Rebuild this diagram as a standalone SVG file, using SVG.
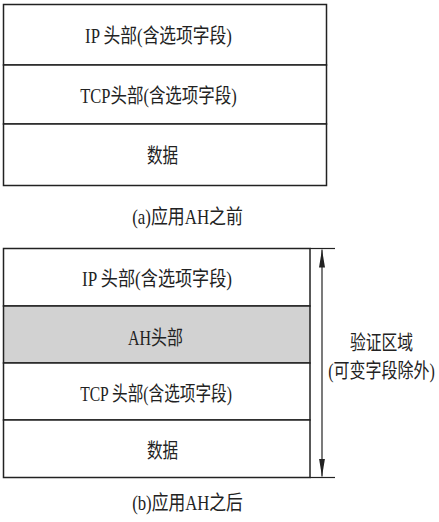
<svg xmlns="http://www.w3.org/2000/svg" width="439" height="522" viewBox="0 0 439 522">
<style>
.box{fill:#fff;stroke:#222;stroke-width:1.5}
.gray{fill:#d2d2d2;stroke:#222;stroke-width:1.5}
.t{font-family:"Liberation Serif","Noto Sans CJK SC",serif;font-size:20px;fill:#222;text-anchor:middle}
.ln{stroke:#222;stroke-width:1.2;fill:none}
</style>
<defs>
<marker id="ah" viewBox="0 0 18 6" refX="18" refY="3" markerWidth="18" markerHeight="6" markerUnits="userSpaceOnUse" orient="auto">
<path d="M0,0 L18,3 L0,6 Z" fill="#222"/>
</marker>
</defs>
<g id="a-ip"><rect class="box" x="3.5" y="4.5" width="323" height="60.5"/><text class="t" transform="translate(158.5,43) scale(0.82,1)" textLength="179" lengthAdjust="spacingAndGlyphs">IP 头部(含选项字段)</text></g>
<g id="a-tcp"><rect class="box" x="3.5" y="65" width="323" height="59"/><text class="t" transform="translate(158.5,103) scale(0.82,1)" textLength="191" lengthAdjust="spacingAndGlyphs">TCP头部(含选项字段)</text></g>
<g id="a-data"><rect class="box" x="3.5" y="124" width="323" height="61.5"/><text class="t" transform="translate(162.5,163) scale(0.82,1)" textLength="38" lengthAdjust="spacingAndGlyphs">数据</text></g>
<text class="t" transform="translate(187.5,224) scale(0.82,1)" textLength="135" lengthAdjust="spacingAndGlyphs">(a)应用AH之前</text>
<g id="b-ip"><rect class="box" x="3.5" y="248.5" width="306.5" height="57.5"/><text class="t" transform="translate(157,286) scale(0.82,1)" textLength="183" lengthAdjust="spacingAndGlyphs">IP 头部(含选项字段)</text></g>
<g id="b-ah"><rect class="gray" x="3.5" y="306" width="306.5" height="57"/><text class="t" transform="translate(155.5,345) scale(0.82,1)" textLength="67" lengthAdjust="spacingAndGlyphs">AH头部</text></g>
<g id="b-tcp"><rect class="box" x="3.5" y="363" width="306.5" height="57"/><text class="t" transform="translate(156,401) scale(0.82,1)" textLength="185" lengthAdjust="spacingAndGlyphs">TCP 头部(含选项字段)</text></g>
<g id="b-data"><rect class="box" x="3.5" y="420" width="306.5" height="57.5"/><text class="t" transform="translate(162.5,458) scale(0.82,1)" textLength="38" lengthAdjust="spacingAndGlyphs">数据</text></g>
<g id="connectors">
<line class="ln" x1="310" y1="248.5" x2="335" y2="248.5"/>
<line class="ln" x1="310" y1="477.5" x2="335" y2="477.5"/>
<line class="ln" x1="322" y1="330" x2="322" y2="249.5" marker-end="url(#ah)"/>
<line class="ln" x1="322" y1="330" x2="322" y2="476.5" marker-end="url(#ah)"/>
</g>
<text class="t" transform="translate(381.5,350) scale(0.82,1)" textLength="77" lengthAdjust="spacingAndGlyphs">验证区域</text>
<text class="t" transform="translate(381.5,378) scale(0.82,1)" textLength="130" lengthAdjust="spacingAndGlyphs">(可变字段除外)</text>
<text class="t" transform="translate(187.5,510) scale(0.82,1)" textLength="135" lengthAdjust="spacingAndGlyphs">(b)应用AH之后</text>
</svg>
